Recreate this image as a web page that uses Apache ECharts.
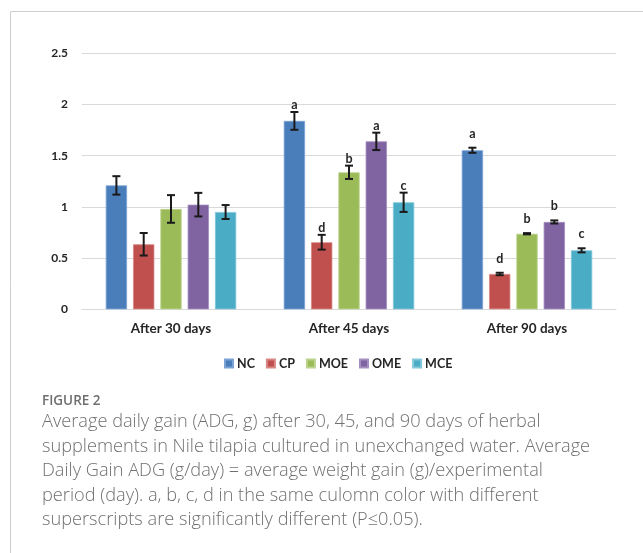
<!DOCTYPE html>
<html>
<head>
<meta charset="utf-8">
<script src="https://cdn.jsdelivr.net/npm/echarts@6/dist/echarts.min.js"></script>
<style>
html,body{margin:0;padding:0;background:#fff;}
#chart{width:643px;height:553px;}
</style>
</head>
<body>
<div id="chart"></div>
<script>
// ---- data ----
const categories = ['After 30 days', 'After 45 days', 'After 90 days'];
const seriesNames = ['NC', 'CP', 'MOE', 'OME', 'MCE'];
const ncValues  = [1.21, 1.84, 1.553];
const cpValues  = [0.635, 0.655, 0.345];
const moeValues = [0.98, 1.338, 0.738];
const omeValues = [1.022, 1.64, 0.853];
const mceValues = [0.95, 1.045, 0.576];
const ncErr  = [0.09, 0.087, 0.025];
const cpErr  = [0.11, 0.072, 0.012];
const moeErr = [0.135, 0.065, 0.006];
const omeErr = [0.115, 0.085, 0.015];
const mceErr = [0.068, 0.094, 0.02];
const ncSig  = ['', 'a', 'a'];
const cpSig  = ['', 'd', 'd'];
const moeSig = ['', 'b', 'b'];
const omeSig = ['', 'a', 'b'];
const mceSig = ['', 'c', 'c'];
const yTicks = [0, 0.5, 1, 1.5, 2, 2.5];
const figureLabel = 'FIGURE 2';
const captionLines = [
  'Average daily gain (ADG, g) after 30, 45, and 90 days of herbal',
  'supplements in Nile tilapia cultured in unexchanged water. Average',
  'Daily Gain ADG (g/day) = average weight gain (g)/experimental',
  'period (day). a, b, c, d in the same culomn color with different',
  'superscripts are significantly different (P\u22640.05).'
];

// ---- styles ----
const colors = ['#4a7ebb', '#c0504d', '#9bbb59', '#8064a2', '#4bacc6'];
const borders = ['#7aa3d4', '#d98785', '#bcd38e', '#a48fc0', '#82c8da'];
const allValues = [ncValues, cpValues, moeValues, omeValues, mceValues];
const allErr = [ncErr, cpErr, moeErr, omeErr, mceErr];
const allSig = [ncSig, cpSig, moeSig, omeSig, mceSig];
const BAR_W = 21.3, GAP = 6;
const labelOffsets = [8, 7, 14];
const chartFont = 'Lato, "Open Sans", sans-serif';

const chart = echarts.init(document.getElementById('chart'));

const barSeries = seriesNames.map((name, i) => ({
  name: name,
  type: 'bar',
  data: allValues[i],
  barWidth: BAR_W,
  barGap: (GAP / BAR_W * 100) + '%',
  itemStyle: { color: colors[i], borderColor: borders[i], borderWidth: 0.8 },
  emphasis: { disabled: true },
  z: 2
}));

const errSeries = seriesNames.map((name, i) => ({
  type: 'custom',
  name: name + '_err',
  data: categories.map((c, j) => [j, allValues[i][j], allErr[i][j]]),
  z: 5,
  silent: true,
  renderItem: function (params, api) {
    const j = api.value(0);
    const v = api.value(1);
    const e = api.value(2);
    const offset = (i - 2) * (BAR_W + GAP);
    const top = api.coord([j, v + e]);
    const bot = api.coord([j, v - e]);
    const x = top[0] + offset;
    const half = 4;
    const style = { stroke: '#1a1a1a', lineWidth: 2 };
    const children = [
      { type: 'line', shape: { x1: x, y1: top[1], x2: x, y2: bot[1] }, style: style },
      { type: 'line', shape: { x1: x - half, y1: top[1], x2: x + half, y2: top[1] }, style: style },
      { type: 'line', shape: { x1: x - half, y1: bot[1], x2: x + half, y2: bot[1] }, style: style }
    ];
    const sig = allSig[i][j];
    if (sig) {
      children.push({
        type: 'text',
        style: {
          text: sig, x: x, y: top[1] - labelOffsets[j],
          textAlign: 'center', textVerticalAlign: 'middle',
          font: 'bold 12.5px ' + chartFont, fill: '#262626'
        }
      });
    }
    return { type: 'group', children: children };
  }
}));

const option = {
  animation: false,
  color: colors,
  textStyle: { fontFamily: chartFont },
  grid: { left: 82, right: 27, top: 53.3, bottom: 243.7, containLabel: false },
  legend: {
    data: seriesNames,
    left: 219,
    top: 352,
    icon: 'rect',
    itemWidth: 8,
    itemHeight: 8,
    itemGap: 11,
    textStyle: { fontFamily: chartFont, fontWeight: 'bold', fontSize: 12.5, color: '#262626', padding: [0, 0, 0, -1] }
  },
  xAxis: {
    type: 'category',
    data: categories,
    axisTick: { show: false },
    axisLine: { show: true, lineStyle: { color: '#d9d9d9', width: 1 } },
    axisLabel: { fontFamily: chartFont, fontWeight: 'bold', fontSize: 13.5, color: '#262626', margin: 12 }
  },
  yAxis: {
    type: 'value',
    min: 0, max: 2.5, interval: 0.5,
    axisLine: { show: false },
    axisTick: { show: false },
    splitLine: { lineStyle: { color: '#d9d9d9', width: 1 } },
    axisLabel: {
      fontFamily: chartFont, fontWeight: 'bold', fontSize: 12, color: '#262626', margin: 14,
      formatter: function (v) { return yTicks.indexOf(v) >= 0 ? String(v) : ''; }
    }
  },
  series: barSeries.concat(errSeries),
  graphic: [
    { type: 'line', shape: { x1: 10.5, y1: 11.5, x2: 643, y2: 11.5 }, style: { stroke: '#cfcfcf', lineWidth: 1 } },
    { type: 'line', shape: { x1: 10.5, y1: 11.5, x2: 10.5, y2: 553 }, style: { stroke: '#cfcfcf', lineWidth: 1 } },
    { type: 'text', left: 42, top: 394, style: { text: figureLabel, font: '600 13.5px "Open Sans", sans-serif', fill: '#6e6e6e' } },
    { type: 'text', left: 42, top: 410, style: { text: captionLines.join('\n'), font: '300 18.2px "Open Sans", sans-serif', lineHeight: 24.5, fill: '#707070' } }
  ]
};
chart.setOption(option);
</script>
</body>
</html>
